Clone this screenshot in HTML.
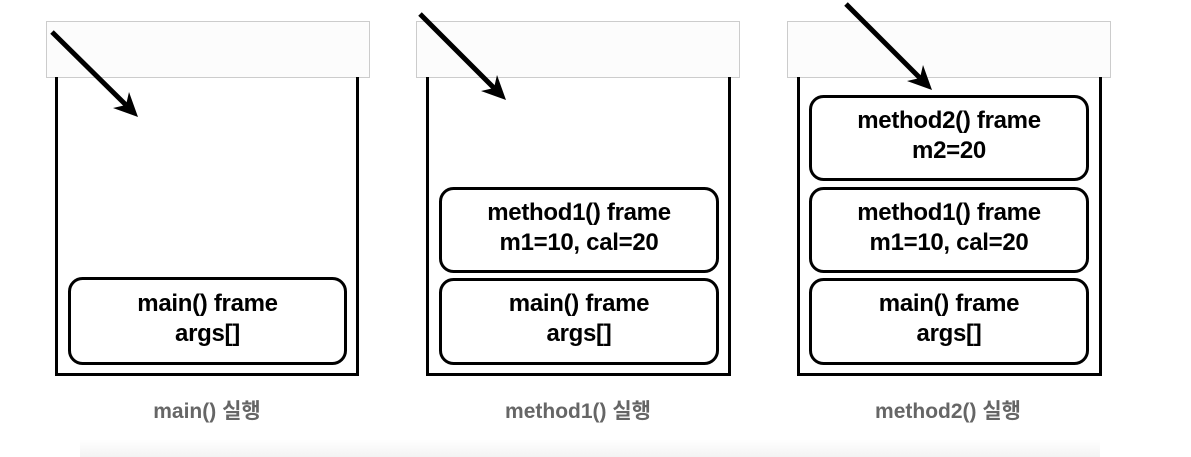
<!DOCTYPE html>
<html><head><meta charset="utf-8"><style>
html,body{margin:0;padding:0;background:#fff;}
svg{display:block;}
.t{font-family:"Liberation Sans","Noto Sans CJK KR",sans-serif;font-size:24px;font-weight:bold;fill:#000;text-anchor:middle;letter-spacing:-0.3px;}
.l{font-family:"Liberation Sans","Noto Sans CJK KR",sans-serif;font-size:21px;font-weight:bold;fill:#666;text-anchor:middle;}
</style></head><body>
<svg width="1191" height="457" viewBox="0 0 1191 457" xmlns="http://www.w3.org/2000/svg">
<defs>
<linearGradient id="g" x1="0" y1="0" x2="0" y2="1">
<stop offset="0" stop-color="#fff"/><stop offset="1" stop-color="#f3f3f3"/>
</linearGradient>
</defs>
<rect x="80" y="440" width="1020" height="17" fill="url(#g)"/>

<!-- panel 1 -->
<rect x="46.5" y="21.5" width="323" height="56" fill="#fcfcfc" stroke="#ccc"/>
<path d="M56.5 77 V374.5 H357.5 V77" fill="none" stroke="#000" stroke-width="3"/>
<rect x="69.5" y="278.5" width="276" height="85" rx="13" fill="#fff" stroke="#000" stroke-width="3"/>
<text class="t" x="207.5" y="311">main() frame</text>
<text class="t" x="207.5" y="341">args[]</text>
<line x1="52" y1="32" x2="126" y2="105" stroke="#000" stroke-width="5"/>
<polygon points="138,117 113,108 126,105 129,92"/>
<text class="l" x="207" y="418">main() 실행</text>

<!-- panel 2 -->
<rect x="416.5" y="21.5" width="323" height="56" fill="#fcfcfc" stroke="#ccc"/>
<path d="M427.5 77 V374.5 H729.5 V77" fill="none" stroke="#000" stroke-width="3"/>
<rect x="440.5" y="188.5" width="277" height="83" rx="13" fill="#fff" stroke="#000" stroke-width="3"/>
<text class="t" x="579" y="220">method1() frame</text>
<text class="t" x="579" y="250">m1=10, cal=20</text>
<rect x="440.5" y="279.5" width="277" height="84" rx="13" fill="#fff" stroke="#000" stroke-width="3"/>
<text class="t" x="579" y="311">main() frame</text>
<text class="t" x="579" y="341">args[]</text>
<line x1="420" y1="14" x2="494" y2="88" stroke="#000" stroke-width="5"/>
<polygon points="506,100 481,91 494,88 497,75"/>
<text class="l" x="578" y="418">method1() 실행</text>

<!-- panel 3 -->
<rect x="787.5" y="21.5" width="323" height="56" fill="#fcfcfc" stroke="#ccc"/>
<path d="M798.5 77 V374.5 H1100.5 V77" fill="none" stroke="#000" stroke-width="3"/>
<rect x="810.5" y="96.5" width="277" height="83" rx="13" fill="#fff" stroke="#000" stroke-width="3"/>
<text class="t" x="949" y="128">method2() frame</text>
<text class="t" x="949" y="158">m2=20</text>
<rect x="810.5" y="188.5" width="277" height="83" rx="13" fill="#fff" stroke="#000" stroke-width="3"/>
<text class="t" x="949" y="220">method1() frame</text>
<text class="t" x="949" y="250">m1=10, cal=20</text>
<rect x="810.5" y="279.5" width="277" height="84" rx="13" fill="#fff" stroke="#000" stroke-width="3"/>
<text class="t" x="949" y="311">main() frame</text>
<text class="t" x="949" y="341">args[]</text>
<line x1="846" y1="4" x2="920" y2="78" stroke="#000" stroke-width="5"/>
<polygon points="932,90 907,81 920,78 923,65"/>
<text class="l" x="948" y="418">method2() 실행</text>
</svg>
</body></html>
